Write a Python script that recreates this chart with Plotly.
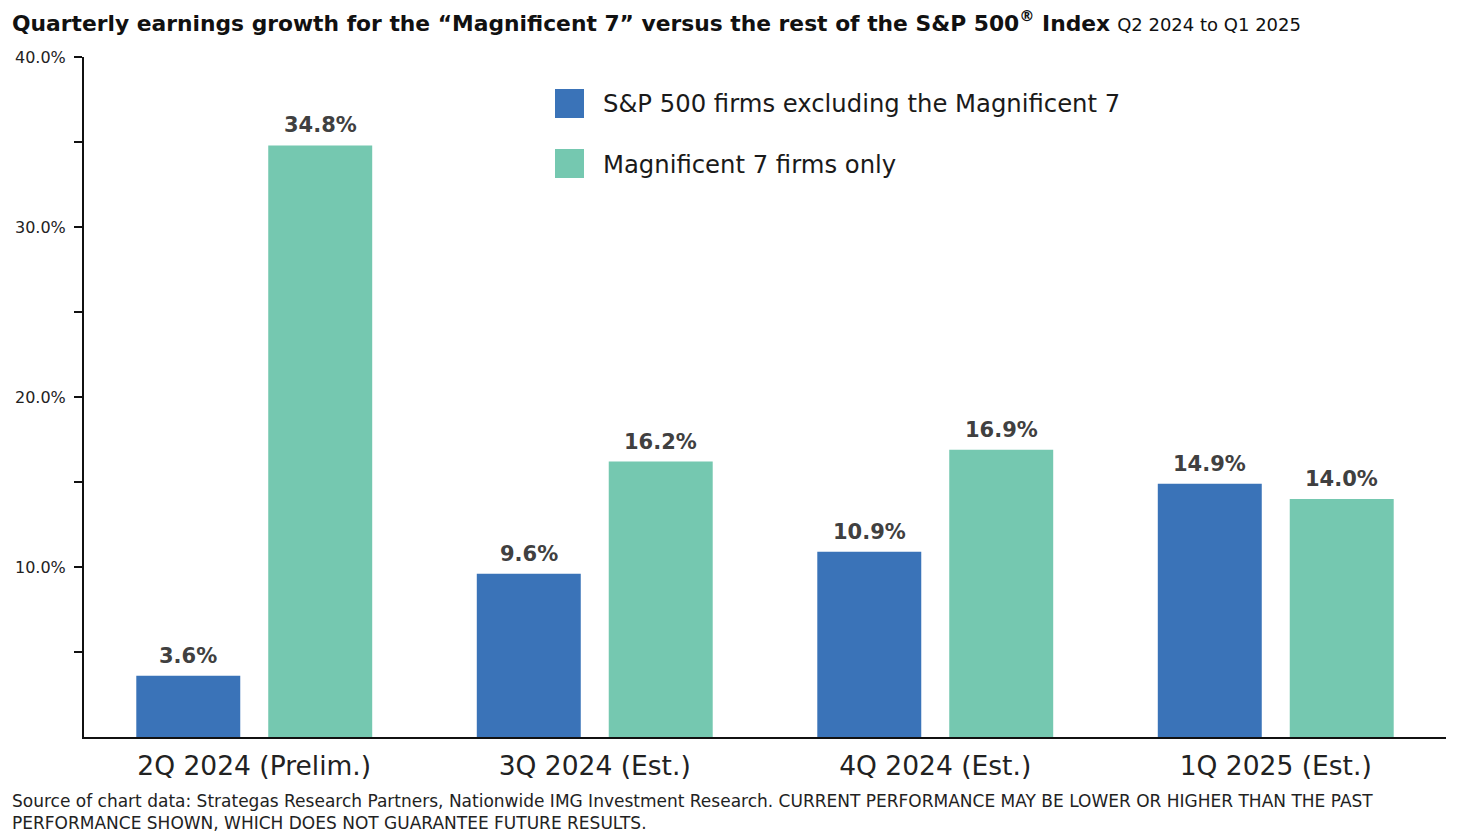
import plotly.graph_objects as go

categories = ["2Q 2024 (Prelim.)", "3Q 2024 (Est.)", "4Q 2024 (Est.)", "1Q 2025 (Est.)"]
series_names = ["S&P 500 firms excluding the Magnificent 7", "Magnificent 7 firms only"]
sp_ex_mag7 = [3.6, 9.6, 10.9, 14.9]
mag7_only = [34.8, 16.2, 16.9, 14.0]
series_values = [sp_ex_mag7, mag7_only]
colors = ["#3A73B8", "#75C8B0"]
y_tick_vals = [10, 20, 30, 40]
y_tick_text = ["10.0%", "20.0%", "30.0%", "40.0%"]
y_minor_tick_vals = [5, 15, 25, 35]

FONT = "DejaVu Sans"
OFF = 8  # page body offset
W, H = 1480 - OFF, 839 - OFF
ML, MR, MT, MB = 84 - OFF, 34, 57 - OFF, 102
plot_w = W - ML - MR
plot_h = H - MT - MB


def px_x(page_x):
    return (page_x - OFF - ML) / plot_w


def px_y(page_y):
    return 1 - (page_y - OFF - MT) / plot_h


BARGAP, GROUPGAP = 0.225, 0.212

fig = go.Figure()
for name, vals, col in zip(series_names, series_values, colors):
    fig.add_trace(go.Bar(
        x=categories, y=vals, name=name, marker=dict(color=col, line=dict(width=0)),
        showlegend=False, hoverinfo="x+y",
    ))

# value labels above bars
cat_px = plot_w / len(categories)
offset_px = cat_px * (1 - BARGAP) / 4
for si, vals in enumerate(series_values):
    shift = -offset_px if si == 0 else offset_px
    for c, v in zip(categories, vals):
        fig.add_annotation(
            x=c, y=v, xref="x", yref="y", text=f"<b>{v:.1f}%</b>", showarrow=False,
            xshift=shift, yshift=6, yanchor="bottom",
            font=dict(family=FONT, size=21, color="#404040"),
        )

# legend (squares + labels)
leg_rows = [104, 164]
for name, col, yc in zip(series_names, colors, leg_rows):
    fig.add_shape(type="rect", xref="paper", yref="paper",
                  x0=px_x(555), x1=px_x(584), y0=px_y(yc - 15), y1=px_y(yc + 14),
                  fillcolor=col, line=dict(width=0))
    fig.add_annotation(xref="paper", yref="paper", x=px_x(601), y=px_y(yc),
                       xanchor="left", yanchor="middle", showarrow=False, text=name,
                       font=dict(family=FONT, size=24.3, color="#1a1a1a"))

fig.update_layout(
    width=W, height=H,
    margin=dict(l=ML, r=MR, t=MT, b=MB),
    paper_bgcolor="white", plot_bgcolor="white",
    barmode="group", bargap=BARGAP, bargroupgap=GROUPGAP,
    font=dict(family=FONT, color="#222"),
    title=dict(
        text="<b>Quarterly earnings growth for the \u201cMagnificent 7\u201d versus the rest of the S&P 500"
             "<sup style='font-size:9px'>\u00ae</sup> Index</b>"
             " <span style='font-size:18px'>Q2 2024 to Q1 2025</span>",
        xref="container", yref="container", x=(12 - OFF) / W, xanchor="left",
        y=1 - (23 - OFF) / H, yanchor="middle",
        font=dict(family=FONT, size=21.8, color="#111"),
    ),
    xaxis=dict(
        showline=True, linecolor="#111", linewidth=2, ticks="", showgrid=False,
        tickfont=dict(family=FONT, size=26.5, color="#222"), range=[-0.5, 3.5],
        ticklabelstandoff=4, automargin=False,
    ),
    yaxis=dict(
        range=[0, 40], tickmode="array", tickvals=y_tick_vals, ticktext=y_tick_text,
        showline=True, linecolor="#111", linewidth=2, ticks="outside", ticklen=8,
        tickwidth=2, tickcolor="#111", showgrid=False, zeroline=False,
        tickfont=dict(family=FONT, size=16, color="#222"), ticklabelstandoff=5,
        automargin=False,
        minor=dict(tickmode="array", tickvals=y_minor_tick_vals, ticks="outside",
                   ticklen=8, tickwidth=2, tickcolor="#111", showgrid=False),
    ),
)

fig.add_annotation(
    xref="paper", yref="paper", x=px_x(10), y=px_y(812),
    xanchor="left", yanchor="middle", align="left", showarrow=False,
    text="Source of chart data: Strategas Research Partners, Nationwide IMG Investment Research. CURRENT PERFORMANCE MAY BE LOWER OR HIGHER THAN THE PAST<br>PERFORMANCE SHOWN, WHICH DOES NOT GUARANTEE FUTURE RESULTS.",
    font=dict(family=FONT, size=17, color="#222"),
)

fig.write_html("out.html")
